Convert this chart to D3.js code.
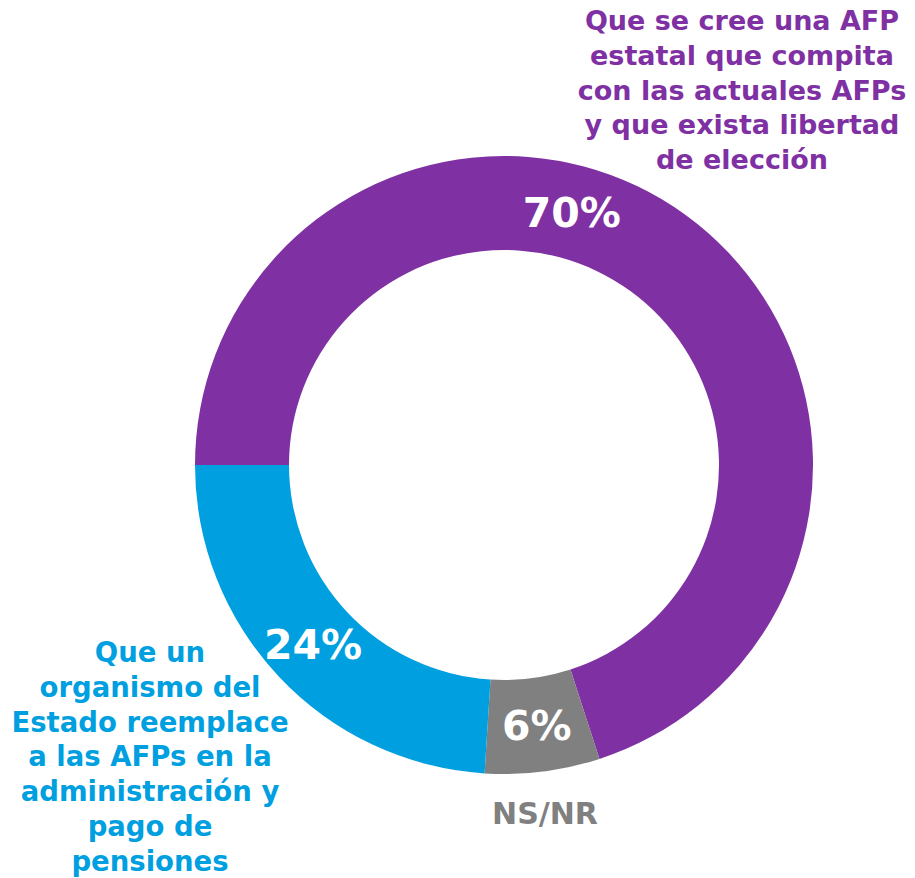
<!DOCTYPE html>
<html>
<head>
<meta charset="utf-8">
<script src="https://cdn.jsdelivr.net/npm/d3@7"></script>
<style>
  body { margin: 0; background: #fff; }
  text { font-family: "DejaVu Sans", sans-serif; font-weight: bold; }
</style>
</head>
<body>
<svg id="donut" width="915" height="878"></svg>
<script>
// respuestas, en orden de dibujo (sentido horario desde las 9 en punto)
const categories = ['AFP estatal', 'NS/NR', 'Organismo del Estado']
const values = [70, 6, 24]
const colors = ['#7f30a3', '#808080', '#009fdf']
const valueLabels = ['70%', '6%', '24%']

const purpleLines = ['Que se cree una AFP', 'estatal que compita', 'con las actuales AFPs', 'y que exista libertad', 'de elección']
const blueLines = ['Que un', 'organismo del', 'Estado reemplace', 'a las AFPs en la', 'administración y', 'pago de', 'pensiones']
const grayLines = ['NS/NR']

const width = 915
const height = 878
const cx = 504, cy = 465
const outerR = 309, innerR = 215

const svg = d3.select('#donut')

const pie = d3.pie()
  .sort(null)
  .value(d => d)
  .startAngle(-Math.PI / 2)
  .endAngle(1.5 * Math.PI)

const arc = d3.arc()
  .innerRadius(innerR)
  .outerRadius(outerR)

const arcs = pie(values)

const g = svg.append('g')
  .attr('transform', `translate(${cx},${cy})`)

g.selectAll('path.slice')
  .data(arcs)
  .enter()
  .append('path')
  .attr('class', 'slice')
  .attr('d', arc)
  .attr('fill', (d, i) => colors[i])

// la etiqueta del 70% va desplazada hacia arriba, no en el centroide
const labelArc = d3.arc().innerRadius(innerR).outerRadius(outerR)
const labelPos = (d, i) => {
  if (i === 0) {
    const a = 15 * Math.PI / 180
    const r = (innerR + outerR) / 2
    return [r * Math.sin(a), -r * Math.cos(a)]
  }
  return labelArc.centroid(d)
}

g.selectAll('text.pct')
  .data(arcs)
  .enter()
  .append('text')
  .attr('class', 'pct')
  .attr('x', (d, i) => labelPos(d, i)[0])
  .attr('y', (d, i) => labelPos(d, i)[1])
  .attr('dy', '0.36em')
  .attr('text-anchor', 'middle')
  .attr('font-size', 41)
  .attr('fill', '#fff')
  .text((d, i) => valueLabels[i])

const addBlock = (lines, x, y0, color, size) => {
  svg.append('g')
    .selectAll('text')
    .data(lines)
    .enter()
    .append('text')
    .attr('x', x)
    .attr('y', (d, i) => y0 + i * 34.8)
    .attr('text-anchor', 'middle')
    .attr('font-size', size)
    .attr('fill', color)
    .text(d => d)
}

addBlock(purpleLines, 742, 30, colors[0], 27)
addBlock(blueLines, 150, 662, colors[2], 27.5)
addBlock(grayLines, 545, 824, colors[1], 30)
</script>
</body>
</html>
